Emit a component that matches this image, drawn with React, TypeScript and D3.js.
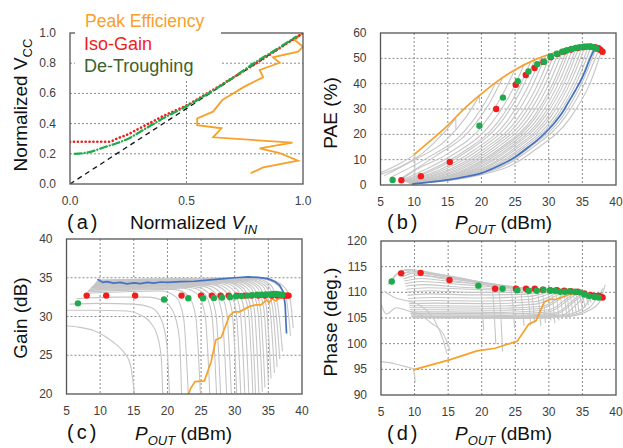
import * as d3 from 'd3';
import React from 'react';

type Pt = [number, number];
type Scale = d3.ScaleLinear<number, number>;

// ---------- (a) normalized Vcc vs normalized Vin ----------
const vinTicks = [0, 0.5, 1];
const vccTicks = [0, 0.2, 0.4, 0.6, 0.8, 1];
const vinGrid = [0.5];
const vccGrid = [0.2, 0.4, 0.6, 0.8];
const unityVcc: Pt[] = [[0, 0], [1, 1]];
const isoGainVcc: Pt[] = [[0, 0.28], [0.17, 0.28], [0.2, 0.3], [0.25, 0.33], [0.3, 0.37], [0.35, 0.41], [0.4, 0.45], [0.45, 0.485], [0.5, 0.52], [0.55, 0.565], [0.6, 0.61], [0.7, 0.705], [0.8, 0.8], [0.9, 0.9], [1, 1]];
const deTroughVcc: Pt[] = [[0.02, 0.2], [0.08, 0.21], [0.15, 0.245], [0.2, 0.27], [0.25, 0.3], [0.3, 0.345], [0.35, 0.39], [0.4, 0.435], [0.5, 0.515], [0.6, 0.605], [0.7, 0.705], [0.8, 0.81], [0.9, 0.905], [0.97, 0.975]];
const peakEffVcc: Pt[] = [[0.775, 0.071], [0.829, 0.11], [0.979, 0.154], [0.9, 0.205], [0.814, 0.236], [0.955, 0.274], [0.614, 0.309], [0.65, 0.369], [0.546, 0.39], [0.546, 0.435], [0.614, 0.479], [0.654, 0.556], [0.7, 0.6], [0.743, 0.64], [0.829, 0.707], [0.814, 0.755], [0.9, 0.803], [0.871, 0.839], [0.979, 0.876], [1.0, 0.909], [0.964, 0.954], [1.0, 1.0]];

// ---------- shared Pout axis ----------
const poutTicks = [5, 10, 15, 20, 25, 30, 35, 40];
const poutGrid = [10, 15, 20, 25, 30, 35];

// ---------- (b) PAE ----------
const paeTicks = [0, 10, 20, 30, 40, 50, 60];
const paeGrid = [10, 20, 30, 40, 50];
const paePeakEff: Pt[] = [[10, 12], [12, 16.5], [15, 23.5], [17, 29], [19.3, 34.5], [20, 36], [22, 40.2], [25, 45.5], [28, 49.5], [30, 51.5], [32, 53], [34, 54.1], [35, 54.5], [36, 54.7], [37, 54.6]];
const paeFixedVcc: Pt[] = [[9.7, 0.4], [12, 1], [15, 2], [17.5, 3.2], [20, 4.7], [22.5, 7.5], [25, 11], [27, 15], [28, 17], [30, 22], [31, 25], [32, 28.5], [33, 33], [34, 37.5], [35, 42.5], [35.5, 45.5], [36, 49], [36.5, 52], [36.9, 54]];
const paeIsoGain: Pt[] = [[8.1, 1.9], [11, 3.5], [15.3, 9.1], [22.2, 30], [25.1, 39.6], [26.6, 43.4], [27.9, 46.2], [29.2, 48.6], [30.3, 50.4], [31.3, 51.7], [32.3, 52.7], [33.3, 53.5], [34.3, 54.1], [35.3, 54.5], [36.2, 54.6], [36.9, 54.4], [37.4, 54], [37.7, 53.3], [38, 52.6]];
const paeDeTrough: Pt[] = [[6.8, 2], [19.7, 23.4], [23.2, 34.5], [25.4, 41], [27, 44.8], [28.3, 47.7], [29.3, 48.7], [30.3, 50.7], [31.2, 51.8], [32, 52.6], [32.7, 53.2], [33.4, 53.7], [34, 54.1], [34.6, 54.4], [35.2, 54.6], [35.7, 54.7], [36.2, 54.7], [36.7, 54.4], [37.1, 53.8]];
const paeDrops: [number, number, number][] = [[10.1, 12, 3.3], [16.2, 26.3, 22], [19.7, 35, 32.3]];
const paeSweeps: Pt[][] = [
  [[5, 4.8], [8.1, 8.8], [10.1, 12]],
  [[5, 4.2], [11.2, 12.5], [14.2, 20], [16.2, 26.3]],
  [[5.5, 3.6], [9.7, 9.5], [14.7, 17.6], [17.7, 26.8], [19.7, 35.2]],
  [[6.5, 3], [12.1, 10.9], [17.1, 20.1], [20.1, 30.6], [22.1, 40.2]],
  [[7.9, 2.4], [13.1, 11.3], [18.1, 21], [21.1, 31.9], [23.1, 42]],
  [[8.1, 2.1], [9.9, 5.4], [14.9, 12.2], [19.9, 22.6], [22.9, 34.4], [24.9, 45.2]],
  [[8.2, 1.9], [11.3, 5.7], [16.3, 12.8], [21.3, 23.7], [24.3, 35.9], [26.3, 47.3]],
  [[8.35, 1.7], [12.3, 5.8], [17.3, 13.1], [22.3, 24.3], [25.3, 36.9], [27.3, 48.6]],
  [[8.45, 1.6], [12.9, 5.9], [17.9, 13.3], [22.9, 24.7], [25.9, 37.5], [27.9, 49.3]],
  [[8.55, 1.5], [13.8, 6], [18.8, 13.6], [23.8, 25.1], [26.8, 38.2], [28.8, 50.2]],
  [[8.65, 1.4], [14.5, 6.1], [19.5, 13.7], [24.5, 25.5], [27.5, 38.7], [29.5, 50.9]],
  [[8.75, 1.3], [15.3, 6.2], [20.3, 14], [25.3, 25.9], [28.3, 39.3], [30.3, 51.7]],
  [[8.85, 1.2], [15.9, 6.3], [20.9, 14.1], [25.9, 26.1], [28.9, 39.7], [30.9, 52.2]],
  [[8.95, 1.1], [16.5, 6.3], [21.5, 14.2], [26.5, 26.3], [29.5, 40], [31.5, 52.6]],
  [[9.05, 1], [17.1, 6.4], [22.1, 14.3], [27.1, 26.5], [30.1, 40.3], [32.1, 53]],
  [[9.1, 0.95], [17.7, 6.4], [22.7, 14.4], [27.7, 26.7], [30.7, 40.6], [32.7, 53.4]],
  [[9.15, 0.9], [18.1, 6.4], [23.1, 14.5], [28.1, 26.9], [31.1, 40.8], [33.1, 53.7]],
  [[9.2, 0.85], [18.6, 6.5], [23.6, 14.6], [28.6, 27], [31.6, 41], [33.6, 54]],
  [[9.25, 0.8], [19.1, 6.5], [24.1, 14.6], [29.1, 27.1], [32.1, 41.2], [34.1, 54.2]],
  [[9.3, 0.75], [19.5, 6.5], [24.5, 14.7], [29.5, 27.2], [32.5, 41.3], [34.5, 54.4]],
  [[9.35, 0.7], [20, 6.5], [25, 14.7], [30, 27.3], [33, 41.4], [35, 54.5]],
  [[9.4, 0.65], [20.4, 6.6], [25.4, 14.7], [30.4, 27.3], [33.4, 41.5], [35.4, 54.6]],
  [[9.45, 0.6], [20.9, 6.6], [25.9, 14.7], [30.9, 27.3], [33.9, 41.5], [35.9, 54.6]],
  [[9.5, 0.55], [21.3, 6.6], [26.3, 14.7], [31.3, 27.3], [34.3, 41.5], [36.3, 54.6]],
  [[9.55, 0.5], [21.7, 6.5], [26.7, 14.7], [31.7, 27.3], [34.7, 41.4], [36.7, 54.5]],
  [[9.6, 0.45], [22.1, 6.5], [27.1, 14.7], [32.1, 27.2], [35.1, 41.3], [37.1, 54.3]],
  [[9.65, 0.4], [22.5, 6.5], [27.5, 14.6], [32.5, 27], [35.5, 41], [37.5, 54]],
  [[9.7, 0.35], [23.2, 6.4], [28.2, 14.3], [33.2, 26.5], [36.2, 40.5], [37.9, 53.2]],
];

// ---------- (c) Gain ----------
const gainTicks = [20, 25, 30, 35, 40];
const gainGrid = [25, 30, 35];
const gainPeakEff: Pt[] = [[22.9, 19.5], [23.5, 20.8], [24.1, 21.6], [25.5, 21.7], [26.5, 24.2], [27.2, 27], [28, 27.3], [29.2, 30.1], [29.9, 30.6], [30.7, 30.6], [32.2, 31.3], [33.2, 31.5], [33.9, 31.5], [34.7, 32.1], [35.1, 31.8], [35.6, 32.3], [36.1, 32], [36.7, 32.4], [37.2, 32.7]];
const gainFixedVcc: Pt[] = [[9.6, 34.8], [10.4, 34.4], [11, 34.5], [12, 34.3], [13, 34.4], [14, 34.2], [15, 34.35], [16, 34.25], [17, 34.4], [18, 34.3], [19, 34.45], [20, 34.4], [22, 34.5], [24, 34.55], [26, 34.7], [28, 34.85], [30, 35], [32, 35.1], [33.5, 35.05], [35, 34.85], [36, 34.5], [36.7, 34], [37.2, 33.2], [37.5, 31.5], [37.6, 29.5], [37.7, 27.8]];
const gainIsoGain: Pt[] = [[8, 32.7], [10.9, 32.7], [15.2, 32.7], [22.1, 32.7], [25, 32.7], [26.6, 32.7], [27.9, 32.7], [29.1, 32.7], [30.3, 32.7], [31.5, 32.7], [32.5, 32.7], [33.5, 32.7], [34.5, 32.7], [35.5, 32.7], [36.3, 32.7], [37, 32.7], [37.5, 32.7], [37.8, 32.7], [38, 32.7]];
const gainDeTrough: Pt[] = [[6.7, 31.7], [19.5, 32.2], [23.1, 32.35], [25.3, 32.35], [26.9, 32.4], [28.1, 32.45], [29.3, 32.5], [30.2, 32.6], [31, 32.65], [31.9, 32.7], [32.6, 32.75], [33.3, 32.8], [34, 32.8], [34.6, 32.85], [35.2, 32.85], [35.7, 32.9], [36.2, 32.9], [36.7, 32.85], [37.1, 32.8]];
const gainSweeps: Pt[][] = [
  [[5, 28.8], [7, 28.6], [9, 28.2], [11, 27.3], [12.5, 26.3], [13.6, 25.3], [14.5, 23.8], [15.1, 20]],
  [[5, 30.8], [9, 30.8], [14, 30.7], [16, 30.2], [17.5, 29.2], [18.5, 27.5], [19.1, 24.5], [19.3, 20]],
  [[5.5, 31.6], [10, 31.7], [15, 31.6], [17.5, 31.2], [19, 29.8], [19.9, 26.5], [20.3, 20]],
  [[6.5, 32.3], [12, 32.5], [17, 32.5], [19.5, 32], [21, 30.3], [21.8, 27], [22.1, 20]],
  [[7.9, 33.0], [19.1, 33.3], [21.3, 32.5], [22.4, 29.8], [23.1, 20]],
  [[8.1, 33.2], [20.9, 33.5], [23.1, 32.7], [24.2, 30.0], [24.9, 20]],
  [[8.2, 33.35], [22.3, 33.65], [24.5, 32.85], [25.6, 30.15], [26.3, 20]],
  [[8.35, 33.45], [23.3, 33.75], [25.5, 32.95], [26.6, 30.25], [27.3, 20]],
  [[8.45, 33.55], [23.9, 33.85], [26.1, 33.05], [27.2, 30.35], [27.9, 20]],
  [[8.55, 33.65], [24.8, 33.95], [27.0, 33.15], [28.1, 30.45], [28.8, 20]],
  [[8.65, 33.75], [25.5, 34.05], [27.7, 33.25], [28.8, 30.55], [29.5, 20]],
  [[8.75, 33.85], [26.3, 34.15], [28.5, 33.35], [29.6, 30.65], [30.3, 20]],
  [[8.85, 33.9], [26.9, 34.2], [29.1, 33.4], [30.2, 30.7], [30.9, 20]],
  [[8.95, 34.0], [27.5, 34.3], [29.7, 33.5], [30.8, 30.8], [31.5, 20]],
  [[9.05, 34.05], [28.1, 34.35], [30.3, 33.55], [31.4, 30.85], [32.1, 20]],
  [[9.1, 34.1], [28.7, 34.4], [30.9, 33.6], [32.0, 30.9], [32.7, 20]],
  [[9.15, 34.15], [29.1, 34.45], [31.3, 33.65], [32.4, 30.95], [33.1, 20]],
  [[9.2, 34.2], [29.6, 34.5], [31.8, 33.7], [32.9, 31.0], [33.6, 20]],
  [[9.25, 34.25], [30.1, 34.55], [32.3, 33.75], [33.4, 31.05], [34.1, 20.3]],
  [[9.3, 34.3], [30.5, 34.6], [32.7, 33.8], [33.8, 31.1], [34.5, 20.8]],
  [[9.35, 34.35], [31.0, 34.65], [33.2, 33.85], [34.3, 31.15], [35.0, 21.5]],
  [[9.4, 34.4], [31.4, 34.7], [33.6, 33.9], [34.7, 31.2], [35.4, 22]],
  [[9.45, 34.45], [31.9, 34.75], [34.1, 33.95], [35.2, 31.25], [35.9, 22.7]],
  [[9.5, 34.5], [32.3, 34.8], [34.5, 34.0], [35.6, 31.3], [36.3, 23.5]],
  [[9.55, 34.55], [32.7, 34.85], [34.9, 34.05], [36.0, 31.35], [36.7, 24.5]],
  [[9.6, 34.6], [33.1, 34.9], [35.3, 34.1], [36.4, 31.4], [37.1, 25.5]],
  [[9.65, 34.65], [33.5, 34.95], [36.0, 34.3], [37.6, 32.5], [38.3, 27.5]],
  [[9.7, 34.7], [34.0, 35.0], [36.5, 34.4], [38.1, 32.8], [38.7, 28.5]],
];

// ---------- (d) Phase ----------
const phaseTicks = [90, 95, 100, 105, 110, 115, 120];
const phaseGrid = [95, 100, 105, 110, 115];
const phasePeakEff: Pt[] = [[9.8, 94.9], [15.3, 96.9], [19.3, 98.6], [22, 99.1], [25.3, 100.5], [27, 103.8], [28.1, 104.5], [29.3, 108.1], [30.2, 108.6], [31.2, 108.7], [32.3, 109.2], [33.4, 109.8], [34.4, 109.7], [35.4, 109.5], [36.5, 109.6], [37.3, 109.5]];
const phaseIsoGain: Pt[] = [[8, 113.7], [10.9, 113.8], [15.2, 112.4], [22, 110.7], [25.1, 110.7], [26.6, 110.7], [27.9, 110.7], [29.1, 110.5], [30.2, 110.4], [31.2, 110.4], [32.3, 110.3], [33.3, 110.2], [34.3, 110.1], [35.3, 109.8], [36.2, 109.5], [36.9, 109.3], [37.5, 109.3], [37.8, 109.1], [38, 109]];
const phaseDeTrough: Pt[] = [[6.6, 112.1], [19.5, 111.3], [23.1, 110.7], [25.3, 110.4], [27, 110.3], [28.2, 110.3], [29.2, 110.5], [30.2, 110.3], [30.9, 110.3], [31.7, 110.1], [32.4, 110.1], [33.1, 110.2], [33.9, 110.1], [34.6, 110], [35.3, 109.6], [36, 109.3], [36.8, 109.1], [37.4, 109]];
const phaseSweeps: Pt[][] = [
  [[5, 96.5], [7, 96.1], [9, 95.4], [9.8, 95.1], [10.1, 92.5]],
  [[5, 107.7], [5.8, 105.8], [7.3, 107], [9, 106.4], [10.8, 105.7], [12.5, 104], [14.3, 101.9], [15.3, 98.6]],
  [[5.5, 110.2], [7, 109], [9, 108.3], [11, 107.3], [13, 104.5], [14.3, 100.5], [14.8, 98.1]],
  [[6, 111.5], [8, 113.9], [12, 113.2], [16, 112.2], [19.7, 111.4], [20.3, 102.5]],
  [[6.5, 112], [8.2, 114.3], [12, 113.6], [17, 112.4], [21.5, 111], [22.1, 100]],
  [[7.9, 113.5], [8.8, 114.5], [13, 113.7], [18, 112.5], [22.5, 110.9], [23.1, 98.5]],
  [[8.1, 113.3], [9.5, 114.2], [14, 113.4], [19, 112.2], [24.3, 110.8], [24.9, 103]],
  [[8.2, 113], [10, 113.8], [15, 113], [20, 111.9], [25.7, 110.7], [26.3, 103.5]],
  [[8.35, 112.6], [10.5, 113.3], [16, 112.5], [21, 111.6], [26.7, 110.7], [27.3, 103.5]],
  [[8.45, 112.2], [11, 112.7], [16, 112], [22, 111.3], [27.3, 110.6], [27.9, 104]],
  [[8.55, 111.7], [11, 112.1], [17, 111.5], [23, 111], [28.2, 110.6], [28.8, 103.5]],
  [[8.65, 111.2], [11, 111.5], [17, 111], [24, 110.7], [28.9, 110.6], [29.5, 104]],
  [[8.75, 110.6], [12, 110.9], [18, 110.6], [24, 110.4], [29.7, 110.5], [30.3, 104.5]],
  [[8.85, 110], [12, 110.3], [18, 110], [25, 110], [30.3, 110.4], [30.9, 104]],
  [[8.95, 109.4], [12, 109.7], [19, 109.5], [26, 109.6], [30.9, 110.4], [31.5, 104.5]],
  [[9.05, 108.8], [13, 109], [20, 108.9], [27, 109.2], [31.5, 110.3], [32.1, 105]],
  [[9.1, 108.3], [13, 108.4], [20, 108.3], [27, 108.6], [32.1, 110.3], [32.7, 104.8]],
  [[9.15, 107.8], [13, 107.9], [21, 107.8], [28, 108.2], [32.5, 110.2], [33.1, 105.2]],
  [[9.2, 107.4], [14, 107.4], [21, 107.3], [28, 107.7], [33, 110.1], [33.6, 105.5]],
  [[9.25, 107], [14, 107], [22, 106.9], [29, 107.3], [33.5, 110.1], [34.1, 105.8]],
  [[9.3, 106.6], [14, 106.6], [22, 106.5], [29, 106.9], [33.9, 110], [34.5, 106.2]],
  [[9.35, 106.2], [15, 106.2], [23, 106.1], [30, 106.6], [34.4, 109.9], [35, 106.6]],
  [[9.4, 105.9], [15, 105.9], [23, 105.8], [30, 106.2], [34.8, 109.8], [35.4, 107]],
  [[9.45, 105.6], [15, 105.6], [24, 105.5], [31, 106], [35.3, 109.7], [35.9, 107.5]],
  [[9.5, 105.4], [16, 105.4], [24, 105.3], [31, 105.7], [35.7, 109.6], [36.3, 108]],
  [[9.55, 105.3], [16, 105.3], [25, 105.2], [32, 105.6], [36.1, 109.4], [36.7, 108.5]],
  [[9.6, 105.2], [17, 105.2], [25, 105.1], [32, 105.5], [35, 106.8], [36.5, 109.2], [37.1, 109.5]],
  [[9.65, 105.1], [17, 105.1], [26, 105], [33, 105.5], [36, 107], [37.6, 109.8], [38.1, 110.8]],
  [[9.7, 105], [18, 105], [26, 104.9], [33, 105.3], [36, 106.5], [37.5, 108], [38.4, 111.5]],
];

const FONT = '"Liberation Sans", Arial, sans-serif';
const SWEEP = '#c6c6c6';
const ORANGE = '#f7a02a';
const BLUE = '#4472c4';
const RED = '#f21c1c';
const GREEN = '#1fab4c';
const DARKGREEN = '#3d6328';

function linePath(x: Scale, y: Scale, pts: Pt[], curve: d3.CurveFactory = d3.curveMonotoneX) {
  return d3.line<Pt>().x(d => x(d[0])).y(d => y(d[1])).curve(curve)(pts) ?? '';
}

interface PanelProps {
  id: string;
  x: Scale;
  y: Scale;
  xTicks: number[];
  yTicks: number[];
  xGrid: number[];
  yGrid: number[];
  fmt: (v: number) => string;
  children?: React.ReactNode;
}

function Panel({ id, x, y, xTicks, yTicks, xGrid, yGrid, fmt, children }: PanelProps) {
  const [l, r] = x.range();
  const [b, t] = y.range();
  return (
    <g>
      <defs>
        <clipPath id={id}>
          <rect x={l} y={t} width={r - l} height={b - t} />
        </clipPath>
      </defs>
      {yGrid.map(v => (
        <line key={'h' + v} x1={l} x2={r} y1={y(v)} y2={y(v)} stroke="#8a8a8a" strokeWidth={1} strokeDasharray="2,2" />
      ))}
      {xGrid.map(v => (
        <line key={'v' + v} x1={x(v)} x2={x(v)} y1={t} y2={b} stroke="#8a8a8a" strokeWidth={1} strokeDasharray="2,2" />
      ))}
      <g clipPath={`url(#${id})`}>{children}</g>
      <rect x={l} y={t} width={r - l} height={b - t} fill="none" stroke="#555" strokeWidth={1.3} />
      {yTicks.map(v => (
        <text key={'yt' + v} x={l - 14} y={y(v) + 4} textAnchor="end" fontSize={12} fill="#404040">{fmt(v)}</text>
      ))}
      {xTicks.map(v => (
        <text key={'xt' + v} x={x(v)} y={b + 21} textAnchor="middle" fontSize={12} fill="#404040">{fmt(v)}</text>
      ))}
    </g>
  );
}

function Dots({ x, y, pts, color }: { x: Scale; y: Scale; pts: Pt[]; color: string }) {
  return (
    <g>
      {pts.map((d, i) => (
        <circle key={i} cx={x(d[0])} cy={y(d[1])} r={3.2} fill={color} />
      ))}
    </g>
  );
}

function PoutTitle({ x, y }: { x: number; y: number }) {
  return (
    <text x={x} y={y} fontSize={19} fill="#111">
      <tspan fontStyle="italic">P</tspan>
      <tspan fontStyle="italic" fontSize={13} dy={5}>OUT</tspan>
      <tspan dy={-5}> (dBm)</tspan>
    </text>
  );
}

export default function App() {
  const xa = d3.scaleLinear().domain([0, 1]).range([70, 303]);
  const ya = d3.scaleLinear().domain([0, 1]).range([184, 33]);
  const xb = d3.scaleLinear().domain([5, 40]).range([380.5, 616]);
  const yb = d3.scaleLinear().domain([0, 60]).range([185, 33]);
  const xc = d3.scaleLinear().domain([5, 40]).range([66.5, 302]);
  const yc = d3.scaleLinear().domain([20, 40]).range([394, 239]);
  const xd = d3.scaleLinear().domain([5, 40]).range([381, 616]);
  const yd = d3.scaleLinear().domain([90, 120]).range([395, 241]);
  const f1 = d3.format('.1f');
  const f0 = (v: number) => String(v);

  return (
    <svg width={623} height={448} style={{ position: 'absolute', left: 0, top: 0, background: '#fff' }} fontFamily={FONT}>
      {/* (a) */}
      <Panel id="clipA" x={xa} y={ya} xTicks={vinTicks} yTicks={vccTicks} xGrid={vinGrid} yGrid={vccGrid} fmt={f1}>
        <path d={linePath(xa, ya, unityVcc, d3.curveLinear)} fill="none" stroke="#111" strokeWidth={1.3} strokeDasharray="5,4" />
        <path d={linePath(xa, ya, peakEffVcc, d3.curveLinear)} fill="none" stroke={ORANGE} strokeWidth={1.8} />
        <path d={linePath(xa, ya, isoGainVcc)} fill="none" stroke={RED} strokeWidth={2.6} strokeDasharray="0.1,3.8" strokeLinecap="round" />
        <path d={linePath(xa, ya, deTroughVcc)} fill="none" stroke={GREEN} strokeWidth={2.3} strokeDasharray="7,3,0.1,3" strokeLinecap="round" />
      </Panel>
      <rect x={75} y={0} width={146} height={80} fill="#fff" />
      <text x={85} y={26.5} fontSize={17.5} fill={ORANGE}>Peak Efficiency</text>
      <text x={84} y={49.5} fontSize={18} fill={RED}>Iso-Gain</text>
      <text x={84} y={71.5} fontSize={18} fill={DARKGREEN}>De-Troughing</text>
      <text transform="translate(27,105) rotate(-90)" textAnchor="middle" fontSize={19} fill="#111">
        Normalized V<tspan fontSize={13} dy={5}>CC</tspan>
      </text>
      <text x={67} y={229} fontSize={20} letterSpacing={3} fill="#111">(a)</text>
      <text x={130} y={229} fontSize={19} fill="#111">
        Normalized <tspan fontStyle="italic">V</tspan>
        <tspan fontStyle="italic" fontSize={13} dy={5}>IN</tspan>
      </text>

      {/* (b) */}
      <Panel id="clipB" x={xb} y={yb} xTicks={poutTicks} yTicks={paeTicks} xGrid={poutGrid} yGrid={paeGrid} fmt={f0}>
        {paeSweeps.map((s, i) => (
          <path key={i} d={linePath(xb, yb, s)} fill="none" stroke={SWEEP} strokeWidth={1.1} />
        ))}
        {paeDrops.map((d, i) => (
          <line key={'d' + i} x1={xb(d[0])} x2={xb(d[0])} y1={yb(d[1])} y2={yb(d[2])} stroke={SWEEP} strokeWidth={1.1} />
        ))}
        <path d={linePath(xb, yb, paePeakEff)} fill="none" stroke={ORANGE} strokeWidth={1.7} />
        <path d={linePath(xb, yb, paeFixedVcc)} fill="none" stroke={BLUE} strokeWidth={1.7} />
        <Dots x={xb} y={yb} pts={paeIsoGain} color={RED} />
        <Dots x={xb} y={yb} pts={paeDeTrough} color={GREEN} />
      </Panel>
      <text transform="translate(337,113) rotate(-90)" textAnchor="middle" fontSize={19} fill="#111">PAE (%)</text>
      <text x={387} y={229} fontSize={20} letterSpacing={3} fill="#111">(b)</text>
      <PoutTitle x={455} y={229} />

      {/* (c) */}
      <Panel id="clipC" x={xc} y={yc} xTicks={poutTicks} yTicks={gainTicks} xGrid={poutGrid} yGrid={gainGrid} fmt={f0}>
        {gainSweeps.map((s, i) => (
          <path key={i} d={linePath(xc, yc, s)} fill="none" stroke={SWEEP} strokeWidth={1.1} />
        ))}
        <path d={linePath(xc, yc, gainPeakEff, d3.curveLinear)} fill="none" stroke={ORANGE} strokeWidth={1.7} />
        <path d={linePath(xc, yc, gainFixedVcc, d3.curveLinear)} fill="none" stroke={BLUE} strokeWidth={1.7} />
        <Dots x={xc} y={yc} pts={gainIsoGain} color={RED} />
        <Dots x={xc} y={yc} pts={gainDeTrough} color={GREEN} />
      </Panel>
      <text transform="translate(27,318) rotate(-90)" textAnchor="middle" fontSize={19} fill="#111">Gain (dB)</text>
      <text x={67} y={439} fontSize={20} letterSpacing={3} fill="#111">(c)</text>
      <PoutTitle x={135} y={440} />

      {/* (d) */}
      <Panel id="clipD" x={xd} y={yd} xTicks={poutTicks} yTicks={phaseTicks} xGrid={poutGrid} yGrid={phaseGrid} fmt={f0}>
        {phaseSweeps.map((s, i) => (
          <path key={i} d={linePath(xd, yd, s)} fill="none" stroke={SWEEP} strokeWidth={1.1} />
        ))}
        <path d={linePath(xd, yd, phasePeakEff, d3.curveLinear)} fill="none" stroke={ORANGE} strokeWidth={1.7} />
        <Dots x={xd} y={yd} pts={phaseIsoGain} color={RED} />
        <Dots x={xd} y={yd} pts={phaseDeTrough} color={GREEN} />
      </Panel>
      <text transform="translate(337,322) rotate(-90)" textAnchor="middle" fontSize={19} fill="#111">Phase (deg.)</text>
      <text x={387} y={440} fontSize={20} letterSpacing={3} fill="#111">(d)</text>
      <PoutTitle x={455} y={440} />
    </svg>
  );
}
